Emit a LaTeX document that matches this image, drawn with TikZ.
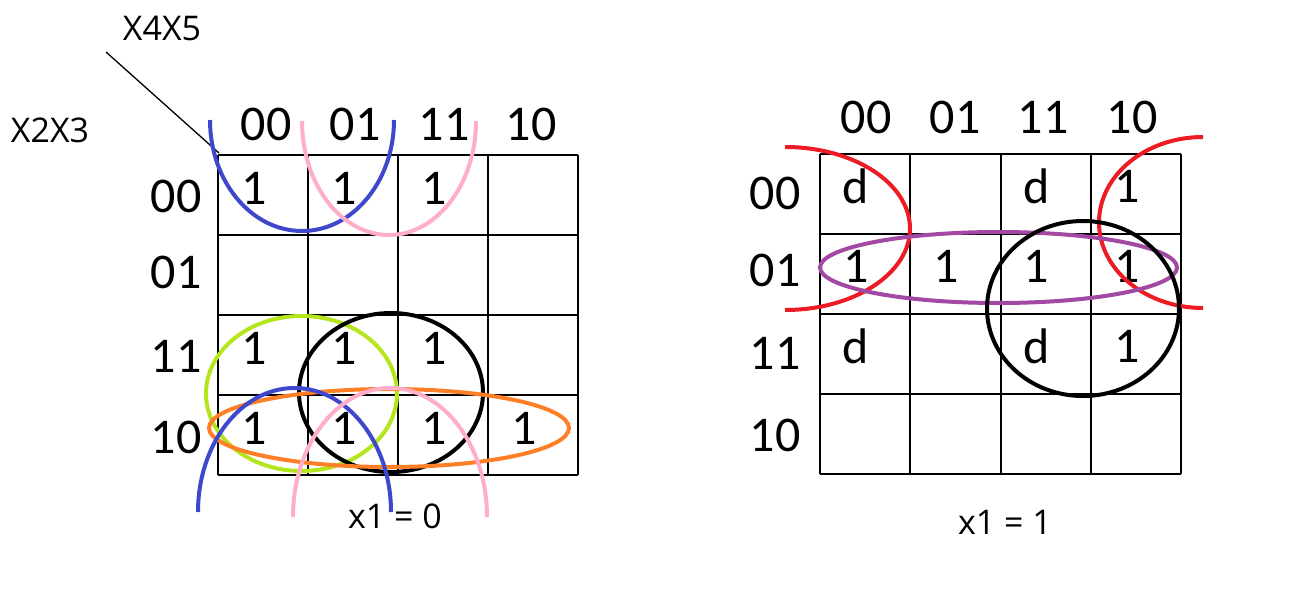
\documentclass[tikz,border=0pt]{standalone}
\usepackage{fontspec}
\setmainfont{Carlito}
\newfontfamily\labfont{Open Sans}
\definecolor{kblue}{HTML}{3F48CC}
\definecolor{kpink}{HTML}{FFAEC9}
\definecolor{kgreen}{HTML}{B5E61D}
\definecolor{korange}{HTML}{FF7F27}
\definecolor{kred}{HTML}{ED1C24}
\definecolor{kpurple}{HTML}{A349A4}
\begin{document}
\begin{tikzpicture}[x=1pt,y=-1pt,
  big/.style={font=\fontsize{50}{60}\selectfont, inner sep=0pt},
  small/.style={font=\labfont\fontsize{34}{40}\selectfont, inner sep=0pt},
  gridline/.style={line width=2pt},
  loopline/.style={line width=4pt}]
\useasboundingbox (0,0) rectangle (1292,596);
\fill[white] (0,0) rectangle (1292,596);

% labels
\node[small] (x45) at (162,28) {X4X5};
\node[small] (x23) at (50,130) {X2X3};
\coordinate (d1) at (106,52);
\coordinate (d2) at (219,153);
\draw[line width=1.3pt] (d1) -- (d2);

% left grid
\foreach \i in {0,...,4} {
  \draw[gridline] (218+90*\i,155) -- (218+90*\i,475);
  \draw[gridline] (218,155+80*\i) -- (578,155+80*\i);
}
% right grid
\foreach \i in {0,...,4} {
  \draw[gridline] (820+90.25*\i,154) -- (820+90.25*\i,474);
  \draw[gridline] (820,154+80*\i) -- (1181,154+80*\i);
}

% left headers
\node[big] (lc0) at (266,124) {00};
\node[big] (lc1) at (355,124) {01};
\node[big] (lc2) at (444,124) {11};
\node[big] (lc3) at (531,124) {10};
\node[big] (lr0) at (176,196) {00};
\node[big] (lr1) at (176,272) {01};
\node[big] (lr2) at (176,356) {11};
\node[big] (lr3) at (176,437) {10};
% right headers
\node[big] (rc0) at (866,117) {00};
\node[big] (rc1) at (955,117) {01};
\node[big] (rc2) at (1043,117) {11};
\node[big] (rc3) at (1132,117) {10};
\node[big] (rr0) at (775,193) {00};
\node[big] (rr1) at (775,270) {01};
\node[big] (rr2) at (775,353) {11};
\node[big] (rr3) at (775,435) {10};

% left cells
\foreach \r/\c/\v in {0/0/1,0/1/1,0/2/1,2/0/1,2/1/1,2/2/1,3/0/1,3/1/1,3/2/1,3/3/1}
  \node[big] (L\r\c) at (254+90*\c,188.5+80*\r) {\v};
% right cells
\foreach \r/\c/\v in {0/0/d,0/2/d,0/3/1,1/0/1,1/1/1,1/2/1,1/3/1,2/0/d,2/2/d,2/3/1}
  \node[big] (R\r\c) at (856+90.25*\c,186.5+80*\r) {\v};

\node[small] (f0) at (395,516) {x1 = 0};
\node[small] (f1) at (1005,522) {x1 = 1};

% left loops
\draw[loopline,kblue] (210,120) arc (180:0:92 and 111);
\draw[loopline,kpink] (302,121) arc (180:0:87 and 114);
\draw[loopline,kgreen] (301.5,393.5) ellipse [x radius=95.5, y radius=77.5];
\draw[loopline,black] (391,392.5) ellipse [x radius=92, y radius=79.5];
\draw[loopline,korange] (389,428) ellipse [x radius=180, y radius=39];
\draw[loopline,kblue] (198,512) arc (180:360:96.5 and 124);
\draw[loopline,kpink] (293,517) arc (180:360:97 and 129);

% right loops
\draw[loopline,kred] (785,147) arc (270:450:125 and 81.5);
\draw[loopline,kred] (1203,137) arc (270:90:104 and 85.5);
\draw[loopline,kpurple] (998.5,267.5) ellipse [x radius=178.5, y radius=35.5];
\draw[loopline,black] (1083,308.5) ellipse [x radius=96, y radius=87.5];
\end{tikzpicture}
\end{document}
